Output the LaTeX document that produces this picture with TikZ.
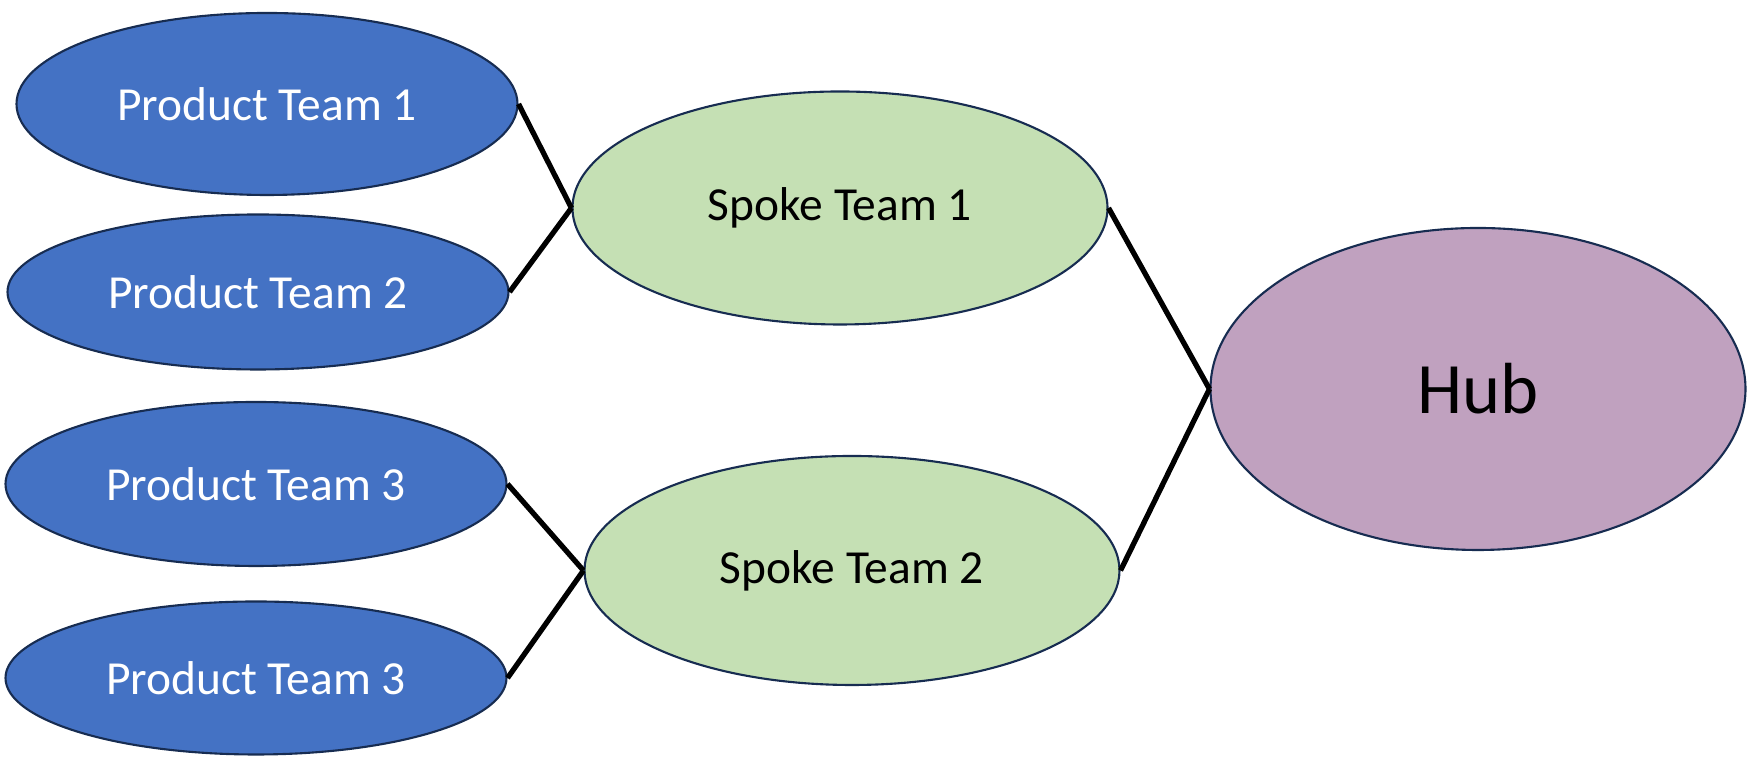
\documentclass[tikz,border=0pt]{standalone}
\usepackage{fontspec}
\setmainfont{Carlito}
\usepackage{xcolor}
\usepackage{tikz}
\usetikzlibrary{shapes.geometric}

\definecolor{teamblue}{HTML}{4472C4}
\definecolor{spokegreen}{HTML}{C5E0B4}
\definecolor{hubpurple}{HTML}{C0A1BF}
\definecolor{rimnavy}{HTML}{172C51}

\tikzset{
  blob/.style={ellipse, draw=rimnavy, line width=0.6pt, inner sep=0pt},
  product/.style={blob, fill=teamblue, text=white, minimum width=5.01cm, font=\fontsize{13.5}{16}\selectfont},
  spoke/.style={blob, fill=spokegreen, text=black, minimum width=5.35cm, font=\fontsize{13.5}{16}\selectfont},
  link/.style={line width=1.5pt, black}
}

\begin{document}
\begin{tikzpicture}
\useasboundingbox (0,0) rectangle (17.54,7.57);

\node[product, minimum height=1.82cm] (p1) at (2.67,6.53) {Product Team 1};
\node[product, minimum height=1.55cm] (p2) at (2.58,4.65) {Product Team 2};
\node[product, minimum height=1.64cm] (p3) at (2.56,2.73) {Product Team 3};
\node[product, minimum height=1.53cm] (p4) at (2.56,0.79) {Product Team 3};

\node[spoke, minimum height=2.33cm] (s1) at (8.40,5.49) {Spoke Team 1};
\node[spoke, minimum height=2.29cm] (s2) at (8.52,1.865) {Spoke Team 2};

\node[blob, fill=hubpurple, minimum width=5.35cm, minimum height=3.22cm, font=\fontsize{20.6}{24}\selectfont] (hub) at (14.78,3.68) {Hub};

\draw[link] (p1.east) -- (s1.west);
\draw[link] (p2.east) -- (s1.west);
\draw[link] (p3.east) -- (s2.west);
\draw[link] (p4.east) -- (s2.west);
\draw[link] (s1.east) -- (hub.west);
\draw[link] (s2.east) -- (hub.west);
\end{tikzpicture}
\end{document}
